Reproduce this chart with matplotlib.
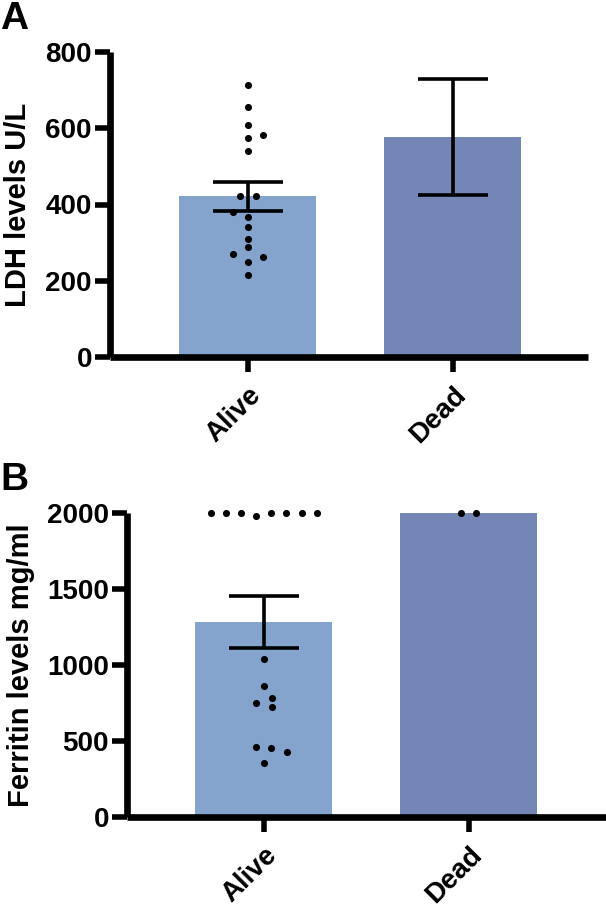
import matplotlib
matplotlib.use("Agg")
import matplotlib.pyplot as plt

plt.rcParams['font.family'] = ['Liberation Sans', 'DejaVu Sans']
plt.rcParams['font.weight'] = 'bold'

groups = ['Alive', 'Dead']
bar_colors = ['#84A3CD', '#7386B5']

# panel A - LDH
ldh_mean = [421, 577]
ldh_err = [39, 152]
ldh_alive = [713, 657, 609, 582, 574, 541, 422, 422, 381, 368, 340, 310,
             288, 270, 261, 250, 215]
ldh_alive_dx = [0, 0, 0, 0.073, 0, 0, -0.039, 0.039, -0.073, 0, 0, 0,
                0, -0.073, 0.073, 0, 0]

# panel B - ferritin
fer_mean = [1283, 2000]
fer_err = [172, 0]
fer_alive = [2000, 2000, 2000, 1982, 2000, 2000, 2000, 2000,
             1039, 862, 786, 747, 721, 462, 451, 429, 357]
fer_alive_dx = [-0.26, -0.185, -0.11, -0.036, 0.037, 0.11, 0.187, 0.26,
                0, 0, 0.041, -0.036, 0.041, -0.036, 0.037, 0.113, 0]
fer_dead = [2000, 2000]
fer_dead_dx = [-0.037, 0.037]

W, H = 606, 909
fig = plt.figure(figsize=(W / 100, H / 100), dpi=100)


def style_axes(ax, ylim, yticks, ylabel, label_x):
    ax.set_ylim(*ylim)
    ax.set_yticks(yticks)
    ax.set_xticks([0, 1])
    ax.set_xticklabels(groups, rotation=45, ha='right', rotation_mode='anchor',
                       fontsize=20, fontweight='bold')
    for t in ax.get_yticklabels():
        t.set_fontsize(20)
        t.set_fontweight('bold')
    for s in ['top', 'right']:
        ax.spines[s].set_visible(False)
    for s in ['left', 'bottom']:
        ax.spines[s].set_linewidth(4.8)
        ax.spines[s].set_capstyle('butt')
    ax.tick_params(axis='both', length=11, width=4, pad=2)
    ax.tick_params(axis='x', pad=7)
    ax.set_ylabel(ylabel, fontsize=21, fontweight='bold')
    ax.yaxis.set_label_coords(label_x, 0.5)


# ---- panel A ----
axA = fig.add_axes([110 / W, 552 / H, 478 / W, 305 / H])
axA.set_xlim(-0.673, 1.659)
axA.bar([0, 1], ldh_mean, width=0.668, color=bar_colors, zorder=1)
axA.scatter([0 + d for d in ldh_alive_dx], ldh_alive, s=26, color='black',
            zorder=3, linewidths=0)
axA.errorbar([0, 1], ldh_mean, yerr=ldh_err, fmt='none', ecolor='black',
             elinewidth=2.6, capsize=25, capthick=2.6, zorder=4)
style_axes(axA, (0, 800), [0, 200, 400, 600, 800], 'LDH levels U/L', -0.164)

# ---- panel B ----
axB = fig.add_axes([127 / W, 92 / H, 485 / W, 304 / H])
axB.set_xlim(-0.668, 1.70)
axB.bar([0, 1], fer_mean, width=0.668, color=bar_colors, zorder=1)
axB.scatter([0 + d for d in fer_alive_dx], fer_alive, s=26, color='black',
            zorder=3, linewidths=0, clip_on=False)
axB.scatter([1 + d for d in fer_dead_dx], fer_dead, s=26, color='black',
            zorder=3, linewidths=0, clip_on=False)
axB.errorbar([0], fer_mean[:1], yerr=fer_err[:1], fmt='none', ecolor='black',
             elinewidth=2.6, capsize=25, capthick=2.6, zorder=4)
style_axes(axB, (0, 2000), [0, 500, 1000, 1500, 2000], 'Ferritin levels mg/ml', -0.19)

fig.text(0.0, 1 - 1 / H, 'A', fontsize=28, fontweight='bold', va='top', ha='left')
fig.text(0.0, 1 - 462 / H, 'B', fontsize=28, fontweight='bold', va='top', ha='left')

fig.savefig('out.png', dpi=100)
